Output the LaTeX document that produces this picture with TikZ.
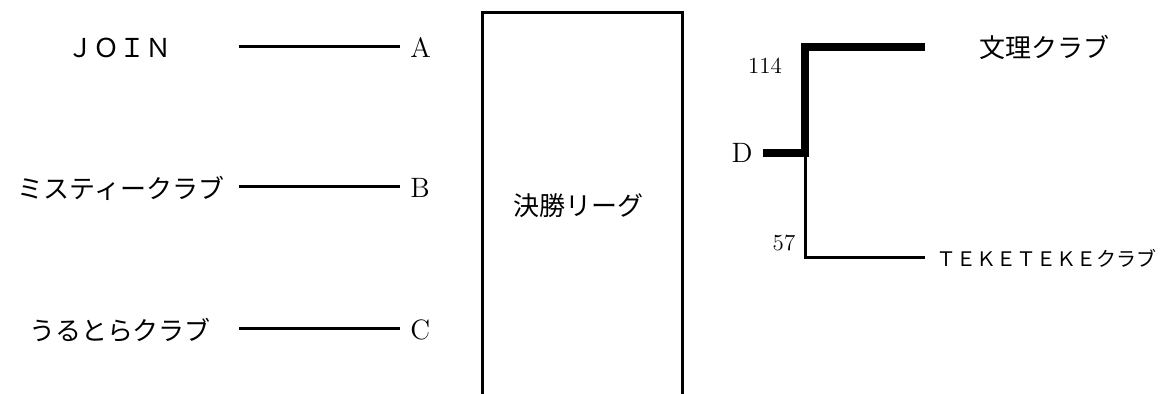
\documentclass[tikz,border=0pt]{standalone}
\usepackage{fontspec}
\usepackage{tikz}
\newfontfamily\jp{Noto Sans CJK JP}
\def\clubsize{\fontsize{13}{15}\selectfont}
\tikzset{
  club/.style={font=\jp\clubsize, inner sep=0pt},
  slot/.style={font=\fontsize{14}{16}\selectfont, inner sep=5pt},
  score/.style={font=\fontsize{11.5}{13}\selectfont, inner sep=0pt},
  link/.style={line width=1.5pt},
  win/.style={line width=4pt, line join=miter}
}
\begin{document}
\begin{tikzpicture}[x=0.5pt, y=-0.5pt]
  \useasboundingbox (0,0) rectangle (1162,394);
  % left: three blocks
  \foreach \s/\team/\x/\y in {A/ＪＯＩＮ/120/48, B/ミスティークラブ/121/188, C/うるとらクラブ/120/330}{
    \node[club] (t\s) at (\x,\y) {\team};
    \node[slot, anchor=west] (\s) at (400,\y) {\s};
    \coordinate (s\s) at (239,\y-1);
    \draw[link] (s\s) -- (\s.west |- s\s);
  }
  % middle: final league
  \coordinate (m1) at (482,394);
  \coordinate (m2) at (482,13);
  \coordinate (m3) at (682,13);
  \coordinate (m4) at (682,394);
  \draw[link] (m1) -- (m2) -- (m3) -- (m4);
  \node[club] (league) at (578,206) {決勝リーグ};
  % right: block D
  \node[slot, anchor=east] (D) at (763,153) {D};
  \coordinate (j) at (805,153);
  \coordinate (up) at (805,47);
  \coordinate (dn) at (805,258);
  \coordinate (wEnd) at (925,47);
  \coordinate (lEnd) at (925,258);
  \draw[link] (j) -- (dn) -- (lEnd);
  \draw[win] (D.east) -- (j) -- (up) -- (wEnd);
  \node[score] (s114) at (765,66) {114};
  \node[score] (s57) at (784,243) {57};
  \node[club] (bunri) at (1044,47) {文理クラブ};
  \node[club, font=\jp\fontsize{10}{12}\selectfont] (teke) at (1046,258) {ＴＥＫＥＴＥＫＥクラブ};
\end{tikzpicture}
\end{document}
